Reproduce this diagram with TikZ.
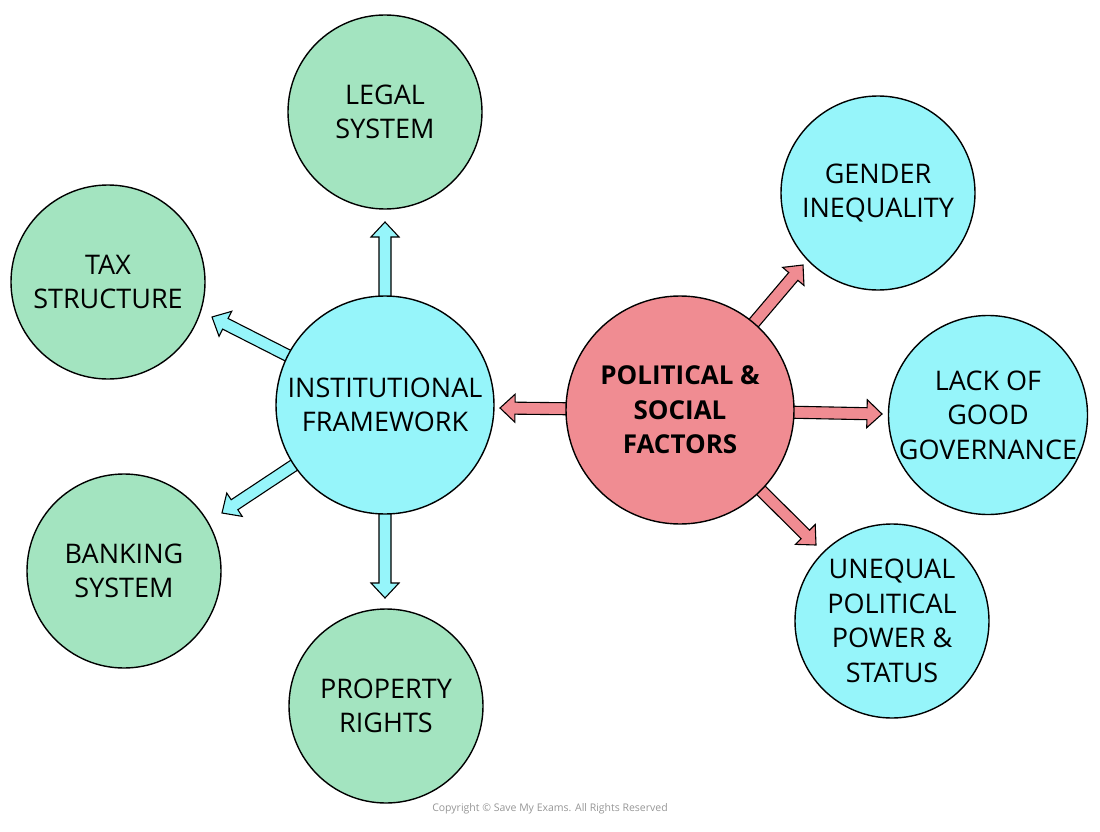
\documentclass[tikz,border=0pt]{standalone}
\usepackage{fontspec}
\setmainfont{Open Sans}
\usetikzlibrary{calc}
\definecolor{cgreen}{RGB}{163,228,192}
\definecolor{ccyan}{RGB}{150,245,250}
\definecolor{cpink}{RGB}{240,140,146}
\definecolor{cgray}{RGB}{150,150,150}
\pgfdeclarelayer{background}
\pgfsetlayers{background,main}
\newcommand\blockarrow[3]{%
  \path[draw=black,fill=#1,line width=1.1pt,line join=miter]
    ($(#2)!6pt!90:(#3)$)
    -- ($($(#3)!15pt!(#2)$)!6pt!90:(#3)$)
    -- ($($(#3)!15pt!(#2)$)!14pt!90:(#3)$)
    -- (#3)
    -- ($($(#3)!15pt!(#2)$)!14pt!-90:(#3)$)
    -- ($($(#3)!15pt!(#2)$)!6pt!-90:(#3)$)
    -- ($(#2)!6pt!-90:(#3)$) -- cycle;}
\begin{document}
\begin{tikzpicture}[x=1pt,y=-1pt,
  bub/.style={circle,draw=black,line width=1.4pt,minimum size=194pt,inner sep=0pt,align=center,
    font=\fontsize{27}{34.5}\selectfont},
  big/.style={bub,minimum size=218pt},
  leaf/.style={bub,fill=cgreen},
  cleaf/.style={bub,fill=ccyan}]
\useasboundingbox (0,0) rectangle (1100,832);
\node[big,fill=ccyan] (inst) at (385,405) {INSTITUTIONAL\\FRAMEWORK};
\node[big,fill=cpink,minimum size=228pt,font=\fontsize{26}{34.5}\selectfont\bfseries] (pol) at (680,410) {POLITICAL \&\\SOCIAL\\FACTORS};
\node[leaf] (legal) at (385,112) {LEGAL\\SYSTEM};
\node[leaf] (tax) at (108,282) {TAX\\STRUCTURE};
\node[leaf] (bank) at (124,571) {BANKING\\SYSTEM};
\node[leaf] (prop) at (386,706) {PROPERTY\\RIGHTS};
\node[cleaf] (gend) at (878,193) {GENDER\\INEQUALITY};
\node[cleaf] (lack) at (988,415) {LACK OF\\GOOD\\GOVERNANCE};
\node[cleaf] (uneq) at (892,621) {UNEQUAL\\POLITICAL\\POWER \&\\STATUS};
\coordinate (tLegal) at (385,222);
\coordinate (tTax) at (212,317);
\coordinate (tBank) at (222,513);
\coordinate (tProp) at (385,598);
\coordinate (tInst) at (500,408);
\coordinate (tGend) at (803,265);
\coordinate (tLack) at (882,414);
\coordinate (tUneq) at (816,545);
\begin{pgfonlayer}{background}
\blockarrow{ccyan}{inst}{tLegal}
\blockarrow{ccyan}{inst}{tTax}
\blockarrow{ccyan}{inst}{tBank}
\blockarrow{ccyan}{inst}{tProp}
\blockarrow{cpink}{pol}{tInst}
\blockarrow{cpink}{pol}{tGend}
\blockarrow{cpink}{pol}{tLack}
\blockarrow{cpink}{pol}{tUneq}
\end{pgfonlayer}
\node[text=cgray,font=\fontsize{10.5}{12}\selectfont] (copy) at (550,809) {Copyright © Save My Exams. All Rights Reserved};
\end{tikzpicture}
\end{document}
